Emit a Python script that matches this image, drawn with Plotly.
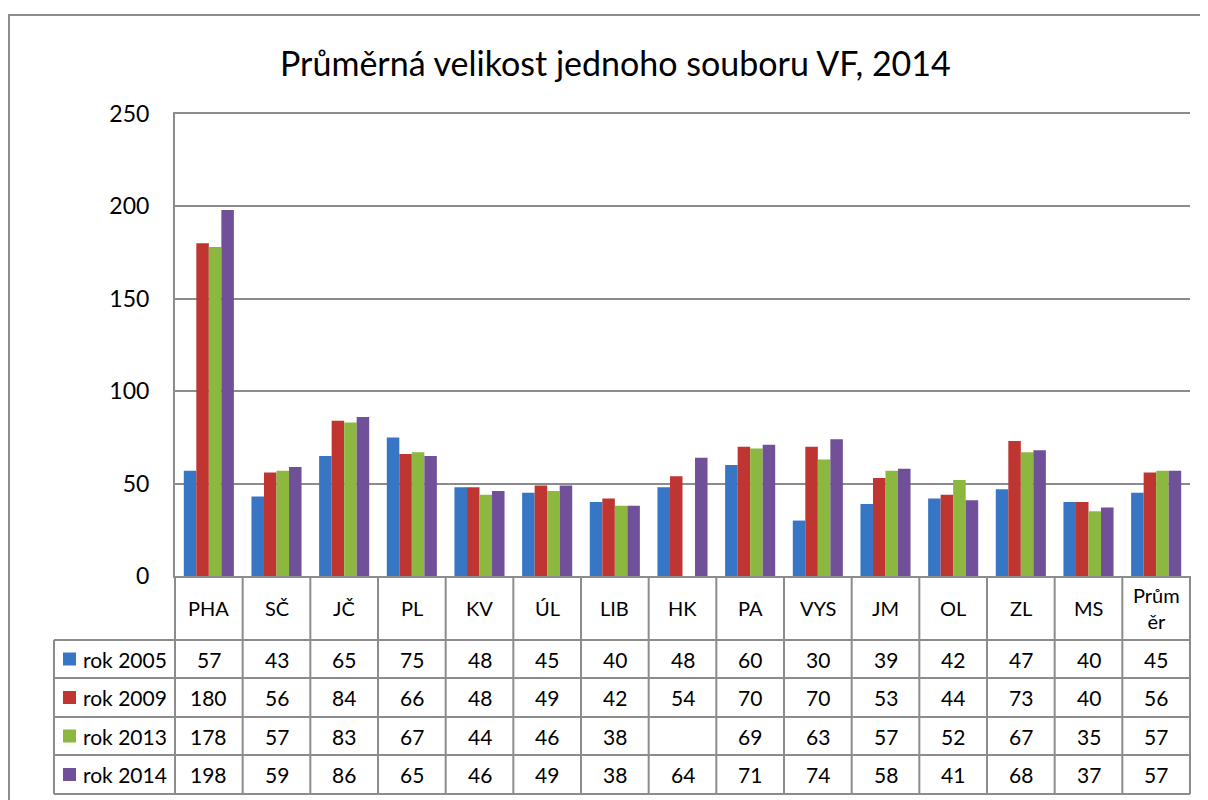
import plotly.graph_objects as go

categories = ["PHA", "SČ", "JČ", "PL", "KV", "ÚL", "LIB", "HK", "PA", "VYS", "JM", "OL", "ZL", "MS", "Průměr"]
category_labels = ["PHA", "SČ", "JČ", "PL", "KV", "ÚL", "LIB", "HK", "PA", "VYS", "JM", "OL", "ZL", "MS", "Prům<br>ěr"]
series_names = ["rok 2005", "rok 2009", "rok 2013", "rok 2014"]
rok_2005 = [57, 43, 65, 75, 48, 45, 40, 48, 60, 30, 39, 42, 47, 40, 45]
rok_2009 = [180, 56, 84, 66, 48, 49, 42, 54, 70, 70, 53, 44, 73, 40, 56]
rok_2013 = [178, 57, 83, 67, 44, 46, 38, None, 69, 63, 57, 52, 67, 35, 57]
rok_2014 = [198, 59, 86, 65, 46, 49, 38, 64, 71, 74, 58, 41, 68, 37, 57]
y_ticks = [0, 50, 100, 150, 200, 250]
title_text = "Průměrná velikost jednoho souboru VF, 2014"

series = [rok_2005, rok_2009, rok_2013, rok_2014]
colors = ["#3776C4", "#BE3532", "#8DB83F", "#71509A"]
FONT = "Lato, Carlito, Calibri, sans-serif"
GRID = "#8c8c8c"

OFF = 8  # page body margin
# plot area in screen pixels
SL, SR, ST, SB = 175, 1190, 114, 576
L, R, T, B = SL - OFF, SR - OFF, ST - OFF, SB - OFF
W, H = 1208, 800


def px(x):
    return (x - SL) / (SR - SL)


def py(y):
    return (SB - y) / (SB - ST)


fig = go.Figure()
for name, vals, col in zip(series_names, series, colors):
    fig.add_trace(go.Bar(x=categories, y=vals, name=name, marker=dict(color=col, line=dict(width=0)),
                         showlegend=False))

shapes = []
annotations = []

# outer chart border
shapes.append(dict(type="rect", xref="paper", yref="paper", x0=px(9), y0=py(830), x1=px(1240), y1=py(15),
                   line=dict(color=GRID, width=2), fillcolor="rgba(0,0,0,0)", layer="below"))

# table geometry
row_lines = [640, 678, 717, 755, 794]
n = len(categories)
col_w = (SR - SL) / n
for i in range(n + 1):
    x = SL + i * col_w
    shapes.append(dict(type="line", xref="paper", yref="paper", x0=px(x), x1=px(x), y0=py(SB), y1=py(794),
                       line=dict(color=GRID, width=2)))
shapes.append(dict(type="line", xref="paper", yref="paper", x0=px(54), x1=px(54), y0=py(640), y1=py(794),
                   line=dict(color=GRID, width=2)))
for yl in row_lines:
    shapes.append(dict(type="line", xref="paper", yref="paper", x0=px(54), x1=px(SR), y0=py(yl), y1=py(yl),
                       line=dict(color=GRID, width=2)))

# category labels
for i, lab in enumerate(category_labels):
    cx = SL + (i + 0.5) * col_w
    annotations.append(dict(xref="paper", yref="paper", x=px(cx), y=py(608), text=lab, showarrow=False,
                            xanchor="center", yanchor="middle", font=dict(family=FONT, size=20, color="#000")))

# rows
for r, (name, vals, col) in enumerate(zip(series_names, series, colors)):
    yc = (row_lines[r] + row_lines[r + 1]) / 2
    shapes.append(dict(type="rect", xref="paper", yref="paper", x0=px(63), x1=px(76), y0=py(yc - 6.5),
                       y1=py(yc + 6.5), fillcolor=col, line=dict(width=0)))
    annotations.append(dict(xref="paper", yref="paper", x=px(81), y=py(yc), text=name, showarrow=False,
                            xanchor="left", yanchor="middle", font=dict(family=FONT, size=21, color="#000")))
    for i, v in enumerate(vals):
        if v is None:
            continue
        cx = SL + (i + 0.5) * col_w
        annotations.append(dict(xref="paper", yref="paper", x=px(cx), y=py(yc), text=str(v), showarrow=False,
                                xanchor="center", yanchor="middle", font=dict(family=FONT, size=21, color="#000")))

# title
annotations.append(dict(xref="paper", yref="paper", x=px(615), y=py(62), text=title_text, showarrow=False,
                        xanchor="center", yanchor="middle", font=dict(family=FONT, size=34, color="#000")))

fig.update_layout(
    width=W, height=H,
    margin=dict(l=L, r=W - R, t=T, b=H - B, pad=0),
    paper_bgcolor="white", plot_bgcolor="white",
    barmode="group", bargap=0.26, bargroupgap=0,
    shapes=shapes, annotations=annotations,
    font=dict(family=FONT, color="#000"),
)
fig.update_xaxes(showticklabels=False, showline=True, mirror=True, linecolor=GRID, linewidth=2, ticks="",
                 showgrid=False, range=[-0.5, n - 0.5])
fig.update_yaxes(range=[0, 250], tickvals=y_ticks, showgrid=True, gridcolor=GRID, gridwidth=2,
                 showline=True, linecolor=GRID, linewidth=2, ticks="",
                 zeroline=False, tickfont=dict(family=FONT, size=23, color="#000"),
                 ticklabelstandoff=19)

fig.write_html("out.html")
